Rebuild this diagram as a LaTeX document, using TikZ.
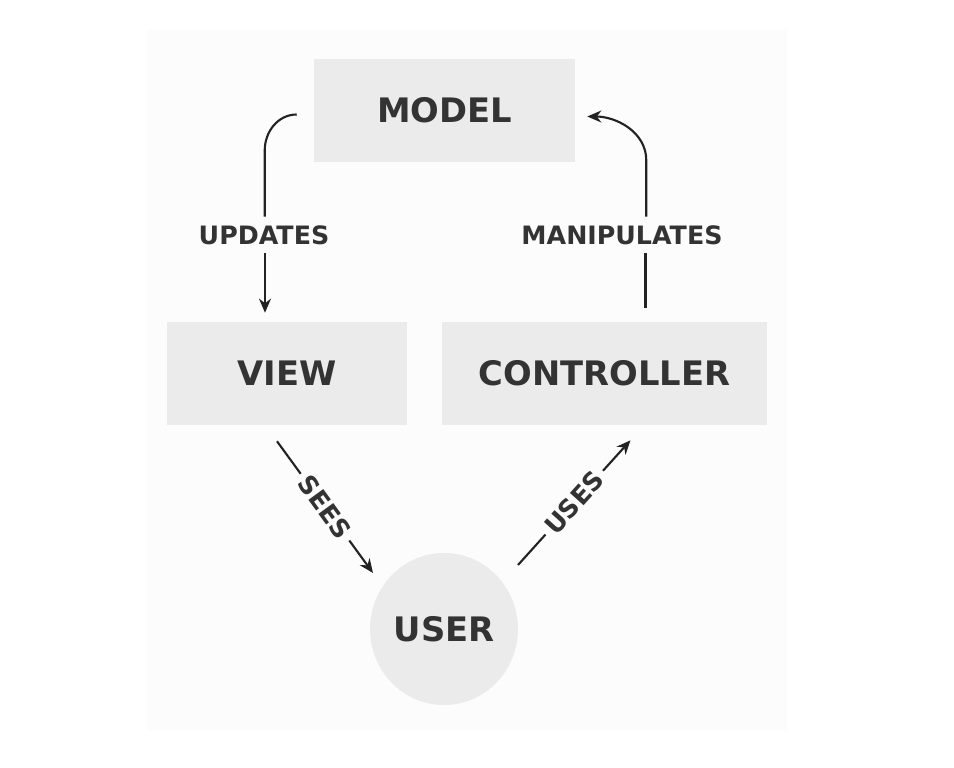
\documentclass[tikz,border=0pt]{standalone}
\usepackage{fontspec}
\setmainfont{DejaVu Sans}
\usetikzlibrary{arrows.meta,calc,shapes.geometric}
\definecolor{boxfill}{HTML}{EBEBEB}
\definecolor{bgpanel}{HTML}{FCFCFC}
\definecolor{txt}{HTML}{333333}
\definecolor{ln}{HTML}{222222}
\tikzset{
  box/.style={fill=boxfill, draw=none, minimum height=103*0.025cm, inner sep=0pt,
    font=\fontsize{24}{28}\selectfont\bfseries, text=txt},
  usernode/.style={ellipse, fill=boxfill, draw=none, minimum width=148*0.025cm, minimum height=152*0.025cm,
    inner sep=0pt, font=\fontsize{24}{28}\selectfont\bfseries, text=txt},
  lbl/.style={font=\fontsize{18}{22}\selectfont\bfseries, text=txt, fill=bgpanel, inner xsep=2pt, inner ysep=6pt},
  conn/.style={draw=ln, line width=1.5pt},
  arr/.style={conn, -{Stealth[length=10pt,width=8.5pt]}}
}
\begin{document}
\begin{tikzpicture}[x=0.025cm, y=-0.025cm]
\useasboundingbox (0,0) rectangle (954,768);
\fill[white] (0,0) rectangle (954,768);
\fill[bgpanel] (147,30) rectangle (787,730);

\node[box, minimum width=261*0.025cm] (model) at (444.5,110.5) {MODEL};
\node[box, minimum width=240*0.025cm] (view) at (287,373.5) {VIEW};
\node[box, minimum width=325*0.025cm] (ctrl) at (604.5,373.5) {CONTROLLER};
\node[usernode] (user) at (444,629) {USER};

% UPDATES
\coordinate (upStart) at ($(model.west)+(-17,4)$);
\coordinate (upBend) at ($(upStart)+(-32,36)$);
\coordinate (upEnd) at ($(view.north)+(-22,-9)$);
\node[lbl] (updates) at (264,235) {UPDATES};
\draw[conn] (upStart) to[out=180,in=90] (upBend) -- (upBend |- updates.north);
\draw[arr] (upEnd |- updates.south) -- (upEnd);

% MANIPULATES
\node[lbl] (manip) at (622,235) {MANIPULATES};
\coordinate (mnStart) at ($(ctrl.north)+(41,-14)$);
\coordinate (mnEnd) at ($(model.east)+(12,6)$);
\coordinate (mnBend) at ($(mnEnd)+(59,44)$);
\draw[conn] (mnStart) -- (mnStart |- manip.south);
\draw[arr] (mnBend |- manip.north) -- (mnBend) to[out=90,in=0] (mnEnd);

% SEES
\coordinate (seStart) at ($(view.south)+(-10,16)$);
\coordinate (seEnd) at ($(user.center)+(-71,-56)$);
\draw[arr] (seStart) -- node[lbl, sloped, inner xsep=4pt, inner ysep=1pt] (sees) {SEES} (seEnd);

% USES
\coordinate (usStart) at ($(user.center)+(74,-64)$);
\coordinate (usEnd) at ($(ctrl.south)+(26,15)$);
\draw[arr] (usStart) -- node[lbl, sloped, inner xsep=4pt, inner ysep=1pt] (uses) {USES} (usEnd);
\end{tikzpicture}
\end{document}
